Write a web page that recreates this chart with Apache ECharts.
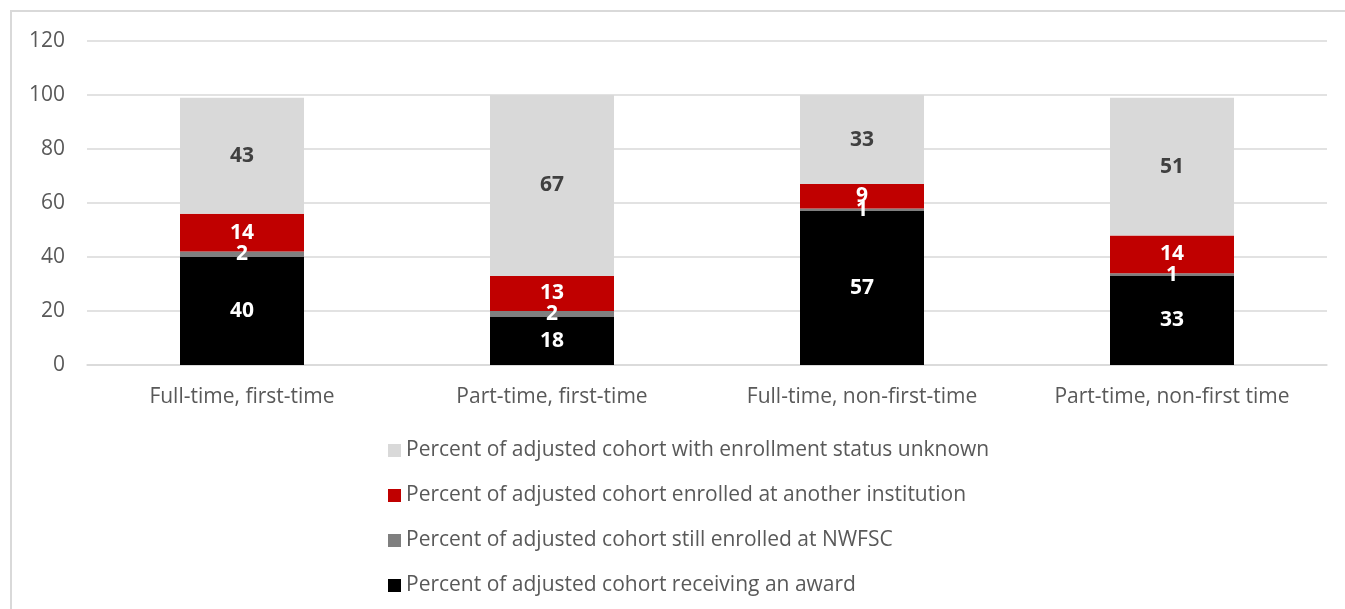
<!DOCTYPE html>
<html>
<head>
<meta charset="utf-8">
<script src="https://cdn.jsdelivr.net/npm/echarts@6/dist/echarts.min.js"></script>
<style>
  html, body { margin: 0; padding: 0; background: #fff; }
  #chart { width: 1345px; height: 609px; }
</style>
</head>
<body>
<div id="chart"></div>
<script>
var categories = ['Full-time, first-time', 'Part-time, first-time', 'Full-time, non-first-time', 'Part-time, non-first time'];
var awardVals = [40, 18, 57, 33];
var stillEnrolledVals = [2, 2, 1, 1];
var anotherInstVals = [14, 13, 9, 14];
var unknownVals = [43, 67, 33, 51];
var yTicks = [0, 20, 40, 60, 80, 100, 120];

var seriesNames = {
  award: 'Percent of adjusted cohort receiving an award',
  still: 'Percent of adjusted cohort still enrolled at NWFSC',
  another: 'Percent of adjusted cohort enrolled at another institution',
  unknown: 'Percent of adjusted cohort with enrollment status unknown'
};

var font = '"Open Sans", "DejaVu Sans", sans-serif';

function barSeries(name, data, color, labelColor) {
  return {
    name: name,
    type: 'bar',
    stack: 'cohort',
    barWidth: '40%',
    data: data,
    itemStyle: { color: color },
    label: {
      show: true,
      position: 'inside',
      color: labelColor,
      fontFamily: font,
      fontWeight: 'bold',
      fontSize: 21
    },
    animation: false
  };
}

var chart = echarts.init(document.getElementById('chart'));
chart.setOption({
  animation: false,
  graphic: [{
    type: 'rect',
    shape: { x: 11, y: 11, width: 1400, height: 700 },
    style: { fill: 'none', stroke: '#d9d9d9', lineWidth: 2 },
    silent: true
  }],
  grid: { left: 87, right: 18, top: 41, bottom: 244 },
  legend: {
    orient: 'vertical',
    left: 383,
    top: 435,
    itemGap: 24,
    itemWidth: 13,
    itemHeight: 13,
    icon: 'rect',
    data: [seriesNames.unknown, seriesNames.another, seriesNames.still, seriesNames.award],
    textStyle: { color: '#595959', fontFamily: font, fontSize: 21 }
  },
  xAxis: {
    type: 'category',
    data: categories,
    axisLine: { show: true, lineStyle: { color: '#d9d9d9', width: 1.5 } },
    axisTick: { show: false },
    axisLabel: { color: '#595959', fontFamily: font, fontSize: 21, margin: 22 }
  },
  yAxis: {
    type: 'value',
    min: yTicks[0],
    max: yTicks[yTicks.length - 1],
    interval: 20,
    axisLine: { show: false },
    axisTick: { show: false },
    splitLine: { lineStyle: { color: '#d9d9d9', width: 1.5 } },
    axisLabel: { color: '#595959', fontFamily: font, fontSize: 21, margin: 22 }
  },
  series: [
    barSeries(seriesNames.award, awardVals, '#000000', '#ffffff'),
    barSeries(seriesNames.still, stillEnrolledVals, '#7f7f7f', '#ffffff'),
    barSeries(seriesNames.another, anotherInstVals, '#c00000', '#ffffff'),
    barSeries(seriesNames.unknown, unknownVals, '#d9d9d9', '#404040')
  ]
});
</script>
</body>
</html>
